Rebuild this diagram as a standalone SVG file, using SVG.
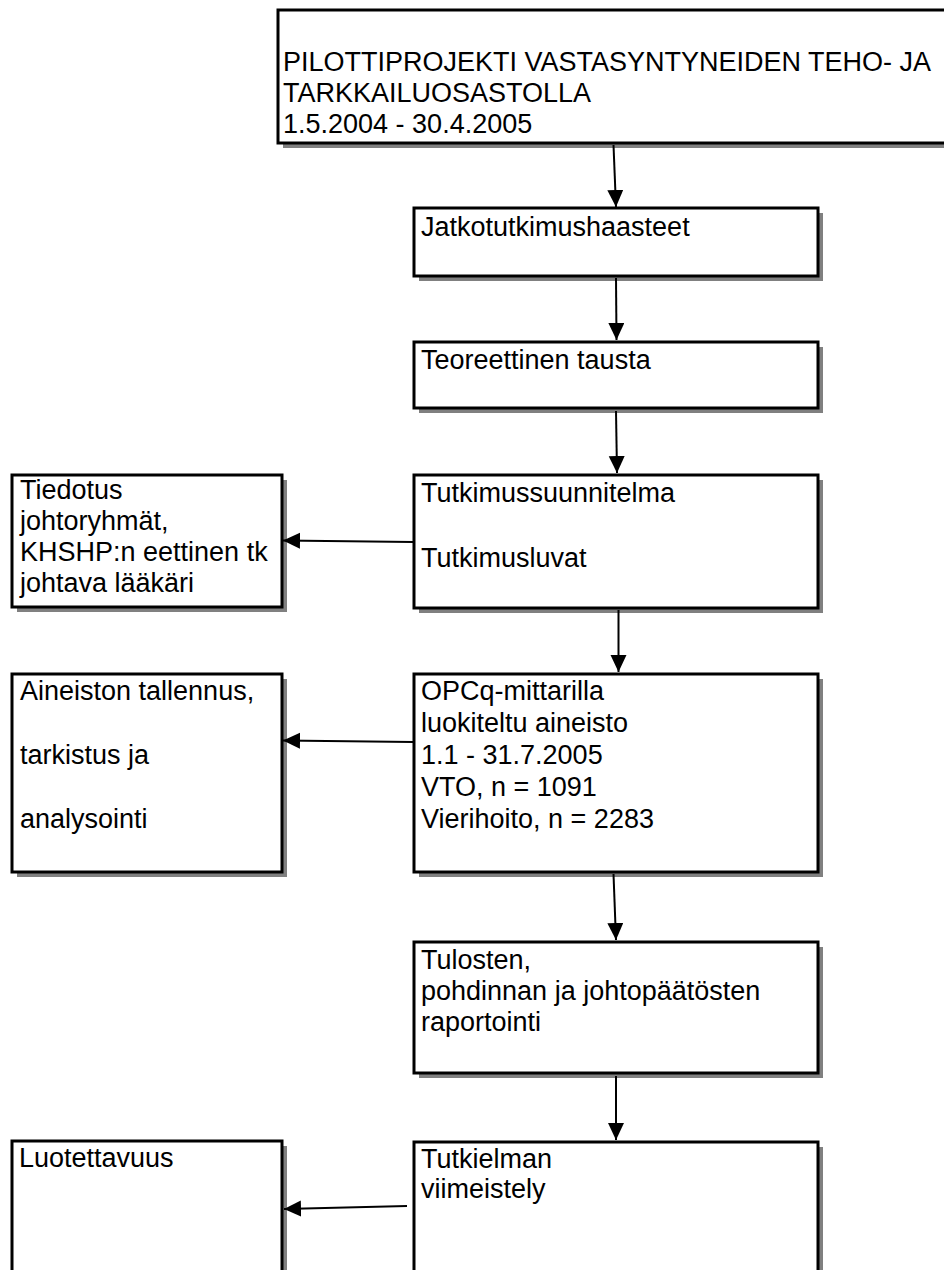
<svg xmlns="http://www.w3.org/2000/svg" width="944" height="1270" viewBox="0 0 944 1270">
<style>
.box{fill:#fff;stroke:#000;stroke-width:3}
.sh{fill:#808080}
.t{font-family:"Liberation Sans",Arial,sans-serif;font-size:27px;fill:#000}
.c{stroke:#000;stroke-width:2;fill:none;marker-end:url(#ah)}
</style>
<defs>
<marker id="ah" markerUnits="userSpaceOnUse" markerWidth="18" markerHeight="17" refX="17" refY="8" orient="auto" viewBox="0 0 18 17">
<path d="M0,0 L17,8 L0,16 z" fill="#000"/>
</marker>
</defs>
<rect width="944" height="1270" fill="#fff"/>
<g id="n-title">
<rect class="sh" x="283" y="15" width="700" height="133"/>
<rect class="box" x="278" y="10" width="700" height="133"/>
<text class="t" x="283" y="71">PILOTTIPROJEKTI VASTASYNTYNEIDEN TEHO- JA</text>
<text class="t" x="283" y="102">TARKKAILUOSASTOLLA</text>
<text class="t" x="283" y="133">1.5.2004 - 30.4.2005</text>
</g>
<g id="n-jatko">
<rect class="sh" x="419" y="213" width="404" height="68"/>
<rect class="box" x="414" y="208" width="404" height="68"/>
<text class="t" x="421" y="236">Jatkotutkimushaasteet</text>
</g>
<g id="n-teoria">
<rect class="sh" x="419" y="347" width="404" height="66"/>
<rect class="box" x="414" y="342" width="404" height="66"/>
<text class="t" x="421" y="369">Teoreettinen tausta</text>
</g>
<g id="n-suunnitelma">
<rect class="sh" x="419" y="480" width="404" height="133"/>
<rect class="box" x="414" y="475" width="404" height="133"/>
<text class="t" x="421" y="502">Tutkimussuunnitelma</text>
<text class="t" x="421" y="567">Tutkimusluvat</text>
</g>
<g id="n-tiedotus">
<rect class="sh" x="17" y="480" width="270" height="132"/>
<rect class="box" x="12" y="475" width="270" height="132"/>
<text class="t" x="20" y="499">Tiedotus</text>
<text class="t" x="20" y="530">johtoryhmät,</text>
<text class="t" x="20" y="561">KHSHP:n eettinen tk</text>
<text class="t" x="20" y="592">johtava lääkäri</text>
</g>
<g id="n-aineisto">
<rect class="sh" x="419" y="679" width="404" height="198"/>
<rect class="box" x="414" y="674" width="404" height="198"/>
<text class="t" x="421" y="700">OPCq-mittarilla</text>
<text class="t" x="421" y="732">luokiteltu aineisto</text>
<text class="t" x="421" y="764">1.1 - 31.7.2005</text>
<text class="t" x="421" y="796">VTO, n = 1091</text>
<text class="t" x="421" y="828">Vierihoito, n = 2283</text>
</g>
<g id="n-tallennus">
<rect class="sh" x="17" y="679" width="270" height="198"/>
<rect class="box" x="12" y="674" width="270" height="198"/>
<text class="t" x="20" y="700">Aineiston tallennus,</text>
<text class="t" x="20" y="764">tarkistus ja</text>
<text class="t" x="20" y="828">analysointi</text>
</g>
<g id="n-tulokset">
<rect class="sh" x="419" y="947" width="404" height="131"/>
<rect class="box" x="414" y="942" width="404" height="131"/>
<text class="t" x="421" y="969">Tulosten,</text>
<text class="t" x="421" y="1000">pohdinnan ja johtopäätösten</text>
<text class="t" x="421" y="1031">raportointi</text>
</g>
<g id="n-viimeistely">
<rect class="sh" x="419" y="1147" width="404" height="200"/>
<rect class="box" x="414" y="1142" width="404" height="200"/>
<text class="t" x="421" y="1168">Tutkielman</text>
<text class="t" x="421" y="1198">viimeistely</text>
</g>
<g id="n-luotettavuus">
<rect class="sh" x="17" y="1146" width="270" height="200"/>
<rect class="box" x="12" y="1141" width="270" height="200"/>
<text class="t" x="19" y="1167">Luotettavuus</text>
</g>
<g id="connectors">
<path class="c" d="M613.5,145 L616,207"/>
<path class="c" d="M616,278 L616.5,340"/>
<path class="c" d="M616,411 L617,473"/>
<path class="c" d="M618.5,610 L618.5,672"/>
<path class="c" d="M613.5,874 L616,940"/>
<path class="c" d="M616,1076 L616,1140"/>
<path class="c" d="M413,542 L283,540.5"/>
<path class="c" d="M413,742 L283,740.5"/>
<path class="c" d="M407,1206 L284,1209"/>
</g>
</svg>
